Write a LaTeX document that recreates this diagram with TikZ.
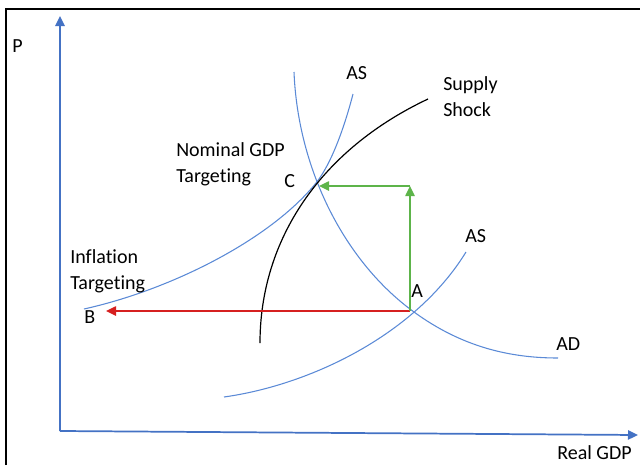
\documentclass[tikz,border=0pt]{standalone}
\usepackage{fontspec}
\setmainfont{Carlito}[Ligatures=NoCommon]
\usetikzlibrary{arrows.meta}
\definecolor{axisblue}{HTML}{4472C4}
\definecolor{curveblue}{HTML}{5B8AD6}
\definecolor{shiftred}{HTML}{D62020}
\definecolor{shiftgreen}{HTML}{5DB44A}
\tikzset{
	>={Triangle[length=7.5pt,width=7pt]},
	axis/.style={draw=axisblue, line width=1.3pt, ->},
	curve/.style={draw=curveblue, line width=0.8pt},
	move/.style={line width=1.1pt, ->},
	lbl/.style={anchor=base west, inner sep=0pt, align=left},
}

\begin{document}
\begin{tikzpicture}[x=0.75pt, y=-0.75pt, font=\fontsize{15}{19.5}\selectfont]
	\useasboundingbox (0,0) rectangle (640,465);
	\draw[line width=1.8pt] (6,465) -- (6,9) -- (640,9);

	% axes
	\coordinate (O) at (60,431);
	\coordinate (Ytop) at (60,16);
	\coordinate (Xend) at (638,435);
	\draw[axis] (O) -- (Ytop);
	\draw[axis] (O) -- (Xend);
	\node[lbl] (P) at (12,52) {P};
	\node[lbl] (realgdp) at (557,459) {Real GDP};

	% points
	\coordinate (ptA) at (410,311);
	\coordinate (ptB) at (106,311);
	\coordinate (turn) at (410,186);
	\coordinate (ptC) at (319,186);

	% curves
	\draw[curve] (84,309) .. controls (170,290) and (270,240) .. (316,183)
		.. controls (332,163) and (345,125) .. (353,94);
	\draw[curve] (224,397) .. controls (310,385) and (415,335) .. (466,252);
	\draw[curve] (294,72) .. controls (298,170) and (345,262) .. (414,312)
		.. controls (462,347) and (510,358) .. (558,358);
	\draw[line width=0.9pt] (260,343) .. controls (260,240) and (320,150) .. (428,99);

	% shifts
	\draw[move, shiftred] (ptA) -- (ptB);
	\draw[move, shiftgreen] (ptA) -- (turn);
	\draw[move, shiftgreen] (turn) -- (ptC);

	% labels
	\node[lbl] (asup) at (346,79) {AS};
	\node[lbl] (shock) at (443,116) {Supply\\Shock};
	\node[lbl] (ngdp) at (176,182) {Nominal GDP\\Targeting};
	\node[lbl] (C) at (284,187) {C};
	\node[lbl] (aslow) at (465,242) {AS};
	\node[lbl] (infl) at (70,289) {Inflation\\Targeting};
	\node[lbl] (A) at (411,297) {A};
	\node[lbl] (B) at (84,323) {B};
	\node[lbl] (AD) at (556,350) {AD};
\end{tikzpicture}
\end{document}
